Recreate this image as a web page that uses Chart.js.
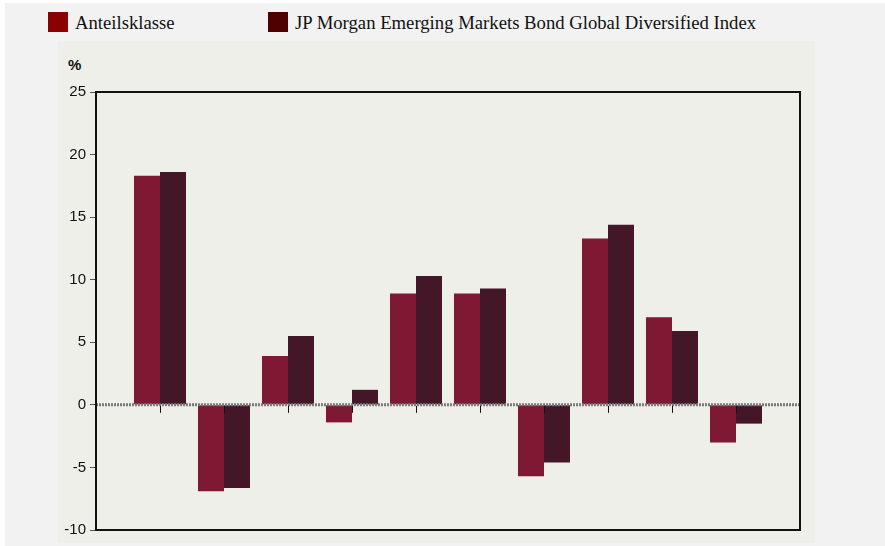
<!DOCTYPE html>
<html>
<head>
<meta charset="utf-8">
<script src="https://cdn.jsdelivr.net/npm/chart.js@4.4.1/dist/chart.umd.min.js"></script>
<style>
    html, body { margin: 0; padding: 0; background: #ffffff; }
    #page { position: absolute; left: 5px; top: 3px; width: 880px; height: 543px; background: #f2f2f2; }
    #panel { position: absolute; left: 58px; top: 41px; width: 757px; height: 502px; background: #efefea; }
    #wrap { position: absolute; left: 0; top: 0; width: 885px; height: 546px; }
    .legend { position: absolute; top: 12px; font: 18.7px "Liberation Serif", "Times New Roman", serif; color: #111; line-height: 20px; }
    .legend span.sw { position: absolute; left: 0; top: 0; width: 20px; height: 20px; }
    .legend span.tx { position: absolute; left: 27px; top: 1px; white-space: nowrap; }
    #unit { position: absolute; left: 68px; top: 56px; font: bold 15px "Liberation Sans", Arial, sans-serif; color: #111; }
</style>
</head>
<body>
<div id="page"></div>
<div id="panel"></div>
<div class="legend" style="left:48px"><span class="sw" style="background:#8b0000"></span><span class="tx">Anteilsklasse</span></div>
<div class="legend" style="left:268px"><span class="sw" style="background:#4f0000"></span><span class="tx">JP Morgan Emerging Markets Bond Global Diversified Index</span></div>
<div id="unit">%</div>
<div id="wrap"><canvas id="barChart" width="885" height="546"></canvas></div>
<script>
// periods (no labels shown in the original), padded with an empty slot at each end
let categories = ['', 'P1', 'P2', 'P3', 'P4', 'P5', 'P6', 'P7', 'P8', 'P9', 'P10', ''];
let anteilsklasse = [null, 18.3, -6.9, 3.9, -1.4, 8.9, 8.9, -5.7, 13.3, 7.0, -3.0, null];
let indexValues = [null, 18.6, -6.65, 5.5, 1.2, 10.3, 9.3, -4.6, 14.4, 5.9, -1.5, null];
let yTicks = [25, 20, 15, 10, 5, 0, -5, -10];

// frame, dotted zero line and small ticks under the zero line
const framePlugin = {
    id: 'frame',
    afterDatasetsDraw(chart) {
        const ctx = chart.ctx;
        const a = chart.chartArea;
        const x = chart.scales.x;
        const y0 = chart.scales.y.getPixelForValue(0);
        ctx.save();
        ctx.strokeStyle = '#7a7a7a';
        ctx.lineWidth = 3;
        ctx.setLineDash([2, 1]);
        ctx.beginPath();
        ctx.moveTo(a.left, y0);
        ctx.lineTo(a.right, y0);
        ctx.stroke();
        ctx.setLineDash([]);
        ctx.strokeStyle = '#111';
        ctx.lineWidth = 1;
        for (let i = 1; i < categories.length - 1; i++) {
            const px = Math.round(x.getPixelForValue(i)) + 0.5;
            ctx.beginPath();
            ctx.moveTo(px, y0 + 1);
            ctx.lineTo(px, y0 + 8);
            ctx.stroke();
        }
        ctx.lineWidth = 2;
        ctx.strokeStyle = '#111';
        ctx.strokeRect(a.left, a.top, a.right - a.left, a.bottom - a.top);
        ctx.restore();
    }
};

let barChartEl = document.getElementById('barChart').getContext('2d');
let barChart = new Chart(barChartEl, {
    type: 'bar',
    data: {
        labels: categories,
        datasets: [
            {
                label: 'Anteilsklasse',
                data: anteilsklasse,
                backgroundColor: '#7e1833'
            },
            {
                label: 'JP Morgan Emerging Markets Bond Global Diversified Index',
                data: indexValues,
                backgroundColor: '#431628'
            }
        ]
    },
    options: {
        responsive: false,
        animation: false,
        layout: {
            padding: { left: 0, right: 85, top: 92, bottom: 8 }
        },
        scales: {
            x: {
                offset: false,
                grid: { display: false },
                border: { display: false },
                ticks: { display: false }
            },
            y: {
                min: -10,
                max: 25,
                afterFit: function (scale) { scale.width = 96; },
                afterBuildTicks: function (scale) {
                    scale.ticks = yTicks.map(v => ({ value: v }));
                },
                grid: {
                    drawOnChartArea: false,
                    tickLength: 6,
                    color: '#555'
                },
                border: { display: false },
                ticks: {
                    padding: 4,
                    color: '#111',
                    font: { family: '"Liberation Sans", Arial, sans-serif', size: 15 }
                }
            }
        },
        datasets: {
            bar: {
                barPercentage: 1,
                categoryPercentage: 0.8125
            }
        },
        plugins: {
            legend: { display: false },
            tooltip: { enabled: false }
        }
    },
    plugins: [framePlugin]
});
</script>
</body>
</html>
